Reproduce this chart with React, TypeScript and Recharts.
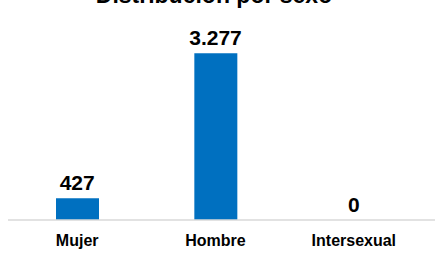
import React from 'react';
import { ComposedChart, Bar, Line, XAxis, YAxis, LabelList } from 'recharts';

const categories = ['Mujer', 'Hombre', 'Intersexual'];
const counts = [427, 3277, 0];
const chartTitle = 'Distribución por sexo';

const data = categories.map((sexo, i) => ({ sexo, total: counts[i] }));

// separador de miles con punto, como en el original
const formatNumber = (v: any) => String(v).replace(/\B(?=(\d{3})+(?!\d))/g, '.');

const FONT = '"Liberation Sans", Arial, sans-serif';

// etiqueta propia; va sobre una línea invisible para que el 0 también salga
const ValueLabel = (props: any) => {
  const { x, y, width, value } = props;
  if (x == null || y == null) return null;
  return (
    <text
      x={Number(x) + (Number(width) || 0) / 2}
      y={Number(y) - 8}
      textAnchor="middle"
      fontSize={21}
      fontWeight="bold"
      fill="#000"
      fontFamily={FONT}
    >
      {formatNumber(value)}
    </text>
  );
};

const App: React.FC = () => {
  return (
    <div style={{ position: 'absolute', left: 0, top: 0, width: 435, height: 255, overflow: 'hidden', background: '#fff' }}>
      <div
        style={{
          position: 'absolute',
          top: -16,
          left: 0,
          width: 428,
          textAlign: 'center',
          fontFamily: FONT,
          fontWeight: 'bold',
          fontSize: 23,
          lineHeight: '23px',
          color: '#000',
        }}
      >
        {chartTitle}
      </div>
      <ComposedChart width={435} height={255} data={data} margin={{ top: 42, right: 0, left: 8, bottom: 0 }}>
        <XAxis
          dataKey="sexo"
          height={35}
          padding={{ left: 0, right: 12 }}
          tickLine={false}
          tickSize={0}
          tickMargin={15}
          axisLine={{ stroke: '#d9d9d9', strokeWidth: 1.5 }}
          tick={{ fontSize: 16, fontWeight: 'bold', fill: '#000', fontFamily: FONT }}
        />
        <YAxis hide domain={[0, 3500]} />
        <Bar dataKey="total" fill="#0070C0" barSize={43} isAnimationActive={false} />
        <Line dataKey="total" stroke="none" dot={false} activeDot={false} isAnimationActive={false}>
          <LabelList dataKey="total" content={<ValueLabel />} />
        </Line>
      </ComposedChart>
    </div>
  );
};

export default App;
